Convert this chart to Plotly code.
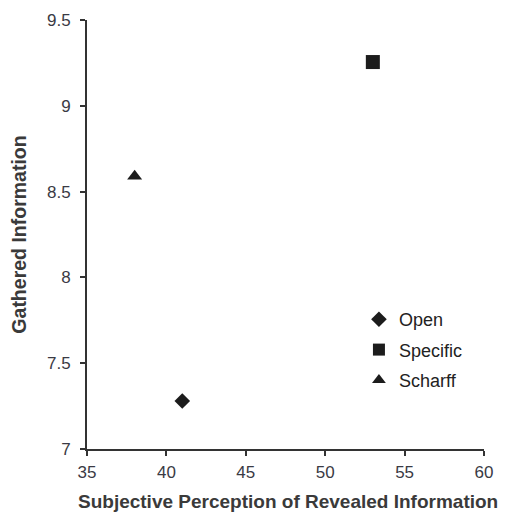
import plotly.graph_objects as go

series = ["Open", "Specific", "Scharff"]
x_vals = [41.0, 53.0, 38.0]
y_vals = [7.28, 9.255, 8.59]
symbols = ["diamond", "square", "triangle-up"]
sizes = [12, 14, 13]

fig = go.Figure()
for name, xv, yv, sym, sz in zip(series, x_vals, y_vals, symbols, sizes):
    fig.add_trace(go.Scatter(
        x=[xv], y=[yv], mode="markers", name=name, legendgroup=name,
        marker=dict(symbol=sym, size=sz, color="#1c1c1c", line=dict(width=0)),
    ))

axis_common = dict(
    showline=True, linecolor="#333333", linewidth=2,
    ticks="outside", ticklen=5, tickwidth=2, tickcolor="#333333",
    showgrid=False, zeroline=False, automargin=False,
    tickfont=dict(family="Liberation Sans, Arial", size=17, color="#3a3a44"),
)
title_font = dict(family="Liberation Sans, Arial", size=19.5, color="#3a3a3a")

fig.update_layout(
    width=510, height=515,
    margin=dict(l=79, r=34, t=12, b=74, autoexpand=False),
    paper_bgcolor="white", plot_bgcolor="white",
    xaxis=dict(range=[35, 60], dtick=5, tick0=35,
               ticklabelstandoff=2,
               **axis_common),
    yaxis=dict(range=[7, 9.5], dtick=0.5, tick0=7,
               title=dict(text="<b>Gathered Information</b>",
                          font=title_font, standoff=16),
               ticklabelstandoff=6,
               **axis_common),
    annotations=[dict(
        text="<b>Subjective Perception of Revealed Information</b>",
        xref="paper", yref="paper", x=0.5, y=0, xshift=2.5, yshift=-52,
        xanchor="center", yanchor="middle", showarrow=False,
        font=dict(family="Liberation Sans, Arial", size=19, color="#3a3a3a"),
    )],
    showlegend=True,
    legend=dict(x=0.685, y=0.345, xanchor="left", yanchor="top",
                traceorder="grouped", tracegroupgap=4,
                font=dict(family="Liberation Sans, Arial", size=18, color="#222222"),
                bgcolor="rgba(0,0,0,0)", itemsizing="constant"),
)

fig.write_html("out.html")
